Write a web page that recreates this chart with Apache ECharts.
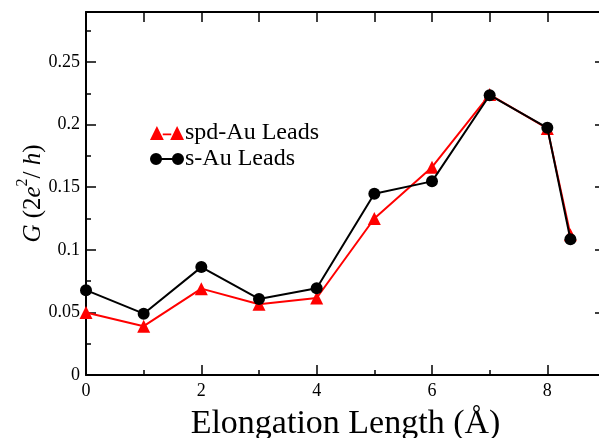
<!DOCTYPE html>
<html>
<head>
<meta charset="utf-8">
<script src="https://cdn.jsdelivr.net/npm/echarts@6/dist/echarts.min.js"></script>
<style>html,body{margin:0;padding:0;background:#fff;}#c{width:599px;height:438px;}</style>
</head>
<body>
<div id="c"></div>
<script>
var xValues = [0, 1, 2, 3, 4, 5, 6, 7, 8, 8.4];
var spdAu = [0.050, 0.039, 0.069, 0.0565, 0.0615, 0.125, 0.166, 0.224, 0.197, 0.112];
var sAu = [0.0678, 0.049, 0.0862, 0.0608, 0.0693, 0.1448, 0.1547, 0.2235, 0.1975, 0.1085];
var seriesNames = ['spd-Au Leads', 's-Au Leads'];

var font = 'Liberation Serif';
var chart = echarts.init(document.getElementById('c'), null, {renderer: 'canvas'});
function pairs(ys) { return xValues.map(function (x, i) { return [x, ys[i]]; }); }
var triIcon = 'path://M0,13 L6.5,0 L13,13 Z M12,7 L20,7 L20,8.6 L12,8.6 Z M19,13 L25.5,0 L32,13 Z';
var cirIcon = 'path://M0,6.5 A5.5,5.5 0 1,1 11,6.5 A5.5,5.5 0 1,1 0,6.5 Z M10,5.7 L21,5.7 L21,7.3 L10,7.3 Z M20,6.5 A5.5,5.5 0 1,1 31,6.5 A5.5,5.5 0 1,1 20,6.5 Z';
var axisLine = {show: true, onZero: false, lineStyle: {color: '#000', width: 2}};
chart.setOption({
  animation: false,
  textStyle: {fontFamily: font},
  grid: {left: 86, top: 12, width: 519, height: 363, containLabel: false, outerBoundsMode: 'none'},
  legend: {
    orient: 'vertical', left: 145, top: 116, itemGap: 2,
    itemWidth: 34, itemHeight: 14,
    textStyle: {fontFamily: font, fontSize: 24, color: '#000', padding: [0, 0, 0, -4]},
    data: [{name: seriesNames[0], icon: triIcon}, {name: seriesNames[1], icon: cirIcon}]
  },
  xAxis: [{
    type: 'value', min: 0, max: 9, interval: 2,
    axisLine: axisLine,
    axisTick: {inside: true, length: 10, lineStyle: {color: '#000', width: 1.5}},
    minorTick: {show: true, splitNumber: 2, length: 5, lineStyle: {color: '#000', width: 1.5}},
    splitLine: {show: false},
    axisLabel: {fontFamily: font, fontSize: 18, color: '#000', margin: 7,
      formatter: function (v) { return v > 8.5 ? '' : String(v); }},
    name: 'Elongation Length (Å)', nameLocation: 'middle', nameGap: 32, nameMoveOverlap: false,
    nameTextStyle: {fontFamily: font, fontSize: 34, color: '#000'}
  }, {
    type: 'value', position: 'top', min: 0, max: 9, interval: 1,
    axisLine: axisLine,
    axisTick: {inside: true, length: 10, lineStyle: {color: '#000', width: 1.5}},
    axisLabel: {show: false}, splitLine: {show: false}
  }],
  yAxis: [{
    type: 'value', min: 0, max: 0.29, interval: 0.05,
    axisLine: axisLine,
    axisTick: {inside: true, length: 10, lineStyle: {color: '#000', width: 1.5}},
    minorTick: {show: true, splitNumber: 2, length: 5, lineStyle: {color: '#000', width: 1.5}},
    splitLine: {show: false},
    axisLabel: {fontFamily: font, fontSize: 18, color: '#000', margin: 6,
      formatter: function (v) { return v > 0.27 ? '' : String(+v.toFixed(2)); }},
    name: '{i|G} {n|(2}{i|e}{s|2}{n|/ }{i|h}{n|)}', nameLocation: 'middle', nameGap: 40, nameMoveOverlap: false,
    nameTextStyle: {
      fontFamily: font, fontSize: 25, color: '#000',
      rich: {
        i: {fontFamily: font, fontSize: 25, fontStyle: 'italic', color: '#000', lineHeight: 31, verticalAlign: 'bottom'},
        n: {fontFamily: font, fontSize: 25, color: '#000', lineHeight: 31, verticalAlign: 'bottom'},
        s: {fontFamily: font, fontSize: 16, color: '#000', lineHeight: 16, verticalAlign: 'top'}
      }
    }
  }, {
    type: 'value', position: 'right', min: 0, max: 0.29, interval: 0.05,
    axisLine: axisLine,
    axisTick: {inside: true, length: 10, lineStyle: {color: '#000', width: 1.5}},
    axisLabel: {show: false}, splitLine: {show: false}
  }],
  series: [{
    name: seriesNames[0], type: 'line', data: pairs(spdAu),
    symbol: 'triangle', symbolSize: 13, showAllSymbol: true,
    itemStyle: {color: '#ff0000'}, lineStyle: {color: '#ff0000', width: 2}, z: 2
  }, {
    name: seriesNames[1], type: 'line', data: pairs(sAu),
    symbol: 'circle', symbolSize: 12, showAllSymbol: true,
    itemStyle: {color: '#000'}, lineStyle: {color: '#000', width: 2}, z: 3
  }]
});
</script>
</body>
</html>
